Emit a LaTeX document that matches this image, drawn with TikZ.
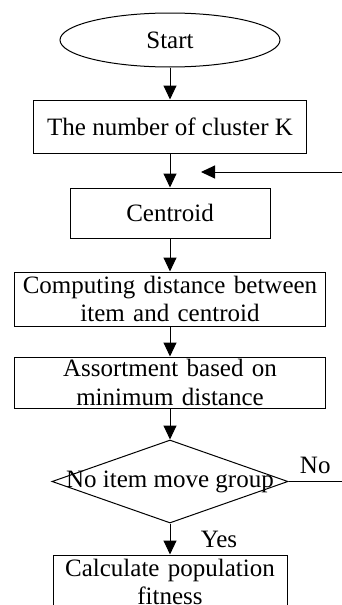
\documentclass[tikz,border=0pt]{standalone}
\usepackage{fontspec}
\setmainfont{Liberation Serif}
\usetikzlibrary{arrows.meta,shapes.geometric}

\begin{document}
\begin{tikzpicture}[>={Triangle[width=13pt,length=14pt]}, line width=1pt, node distance=86.5pt,
    every node/.style={font=\fontsize{25}{28.5}\selectfont},
    terminal/.style={draw, ellipse, minimum width=220pt, minimum height=54pt, inner sep=0pt},
    process/.style={draw, rectangle, align=center, inner sep=1.5pt},
    decision/.style={draw, diamond, aspect=1, minimum width=236pt, minimum height=83pt, inner sep=0pt}]
    \useasboundingbox (0,0) rectangle (342pt,-605pt);

    % Nodes {start, numk, centroid, dist, assort, check, fitness}
    \node [terminal]                                            (start) at (170pt,-40pt)  {Start};
    \node [process, minimum width=273pt, minimum height=53pt]   (numk)     [below of=start]     {The number of cluster K};
    \node [process, minimum width=200pt, minimum height=50pt]   (centroid) [below of=numk]      {Centroid};
    \node [process, minimum width=311pt, minimum height=54pt, text width=305pt]
                                                                (dist)     [node distance=86pt, below of=centroid]   {Computing distance between\\item and centroid};
    \node [process, minimum width=311pt, minimum height=51pt, text width=305pt]
                                                                (assort)   [node distance=83.5pt, below of=dist]     {Assortment based on\\minimum distance};
    \node [decision]                                            (check)    [node distance=99pt, below of=assort]     {\makebox[0pt]{No item move group}};
    \node [process, minimum width=234pt, minimum height=54pt, text width=228pt]
                                                                (fitness)  [node distance=100.5pt, below of=check]   {Calculate population\\fitness};

    % Loop ends (the rest of the loop lies outside the picture)
    \coordinate (noend)  at (check.east -| 342pt,0);
    \coordinate (backin) at (342pt,-172pt);
    \coordinate (backtip) at (201pt,-172pt);

    % Paths
    \path [->]  (start)       edge                               (numk);
    \path [->]  (numk)        edge                               (centroid);
    \path [->]  (centroid)    edge                               (dist);
    \path [->]  (dist)        edge                               (assort);
    \path [->]  (assort)      edge                               (check);
    \path [->]  (check)       edge  node [right=27pt]  {Yes}     (fitness);
    \path       (check.east)  edge  node [above=4pt]   {No}      (noend);
    \path [->]  (backin)      edge                               (backtip);

\end{tikzpicture}
\end{document}
